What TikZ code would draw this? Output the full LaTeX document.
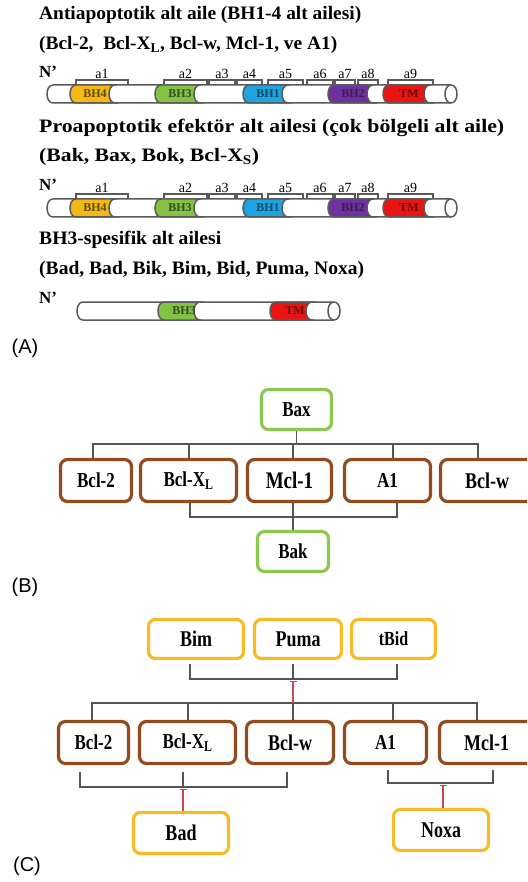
\documentclass[tikz,border=0pt]{standalone}
\usepackage{fontspec}
\setmainfont{Liberation Serif}
\newfontfamily\lsans{Liberation Sans}
\usepackage{graphicx}
\usetikzlibrary{arrows.meta}
\definecolor{brownc}{RGB}{145,75,30}
\definecolor{greenc}{RGB}{140,200,80}
\definecolor{yellowc}{RGB}{245,188,40}
\definecolor{cbhf}{RGB}{245,185,20}
\definecolor{cbht}{RGB}{130,195,70}
\definecolor{cbho}{RGB}{30,165,225}
\definecolor{cbhw}{RGB}{110,50,160}
\definecolor{ctm}{RGB}{235,20,20}
\definecolor{outc}{RGB}{90,90,90}
\definecolor{connc}{RGB}{85,85,85}
\definecolor{inhc}{RGB}{205,70,80}
\newcommand{\vs}[1]{\scalebox{1}[1.25]{#1}}
\newcommand{\tw}[2]{\resizebox{#1pt}{\height}{#2}}
% cylinder body: left x, right x, centre y
\newcommand{\cbody}[3]{%
 \draw[outl, fill=white] ({#1},{#3-9}) -- ({#2},{#3-9}) .. controls ({#2+8},{#3-9}) and ({#2+8},{#3+9}) .. ({#2},{#3+9}) -- ({#1},{#3+9}) .. controls ({#1-8},{#3+9}) and ({#1-8},{#3-9}) .. ({#1},{#3-9}) -- cycle;
 \draw[outl] ({#2},{#3-9}) .. controls ({#2-8},{#3-9}) and ({#2-8},{#3+9}) .. ({#2},{#3+9});}
% coloured segment: xa, xb, yc, colour
\newcommand{\cseg}[4]{%
 \draw[outl, fill=#4] ({#1},{#3-9}) -- ({#2},{#3-9}) .. controls ({#2-8},{#3-9}) and ({#2-8},{#3+9}) .. ({#2},{#3+9}) -- ({#1},{#3+9}) .. controls ({#1-8},{#3+9}) and ({#1-8},{#3-9}) .. ({#1},{#3-9}) -- cycle;}
% bracket: x1, x2, ytop, label, name
\newcommand{\brk}[5]{%
 \draw[brkst] ({#1},{#3+6}) -- ({#1},{#3}) -- ({#2},{#3}) -- ({#2},{#3+6});
 \node[alab] (#5) at ({(#1+#2)/2},{#3-6}) {#4};}
\newcommand{\brackets}[2]{% ytop, row id
 \brk{76}{128}{#1}{a1}{a1#2}
 \brk{164}{207}{#1}{a2}{a2#2}
 \brk{209}{235}{#1}{a3}{a3#2}
 \brk{237}{262}{#1}{a4}{a4#2}
 \brk{268}{303}{#1}{a5}{a5#2}
 \brk{307}{333}{#1}{a6}{a6#2}
 \brk{335}{355}{#1}{a7}{a7#2}
 \brk{358}{378}{#1}{a8}{a8#2}
 \brk{388}{433}{#1}{a9}{a9#2}}
\newcommand{\fullcyl}[2]{% yc, row id
 \cbody{53}{451}{#1}
 \cseg{76}{115}{#1}{cbhf}
 \cseg{161}{200}{#1}{cbht}
 \cseg{249}{288}{#1}{cbho}
 \cseg{334}{373}{#1}{cbhw}
 \cseg{389}{430}{#1}{ctm}
 \node[dlab, text=cbhf!40!black] (bh4#2) at (95,#1) {BH4};
 \node[dlab, text=cbht!40!black] (bh3#2) at (180,#1) {BH3};
 \node[dlab, text=cbho!45!black] (bh1#2) at (268,#1) {BH1};
 \node[dlab, text=cbhw!55!black] (bh2#2) at (353,#1) {BH2};
 \node[dlab, text=ctm!45!black] (tm#2) at (409,#1) {TM};}
\begin{document}
\begin{tikzpicture}[x=1pt,y=-1pt,
  outl/.style={draw=outc, line width=1.5pt},
  brkst/.style={draw=outc, line width=1.2pt},
  alab/.style={inner sep=0pt, font=\fontsize{14}{15}\selectfont},
  dlab/.style={inner sep=0pt, font=\bfseries\fontsize{12}{13}\selectfont},
  ttl/.style={anchor=west, inner sep=0pt, font=\bfseries\fontsize{19}{21}\selectfont},
  npr/.style={anchor=west, inner sep=0pt, font=\bfseries\fontsize{17}{19}\selectfont},
  plab/.style={inner sep=0pt, font=\lsans\fontsize{20}{22}\selectfont},
  bx/.style={rounded corners=7pt, line width=3.2pt, fill=white, inner sep=0pt, font=\bfseries\fontsize{17}{19}\selectfont},
  bbox/.style={bx, draw=brownc},
  gbox/.style={bx, draw=greenc},
  ybox/.style={bx, draw=yellowc},
  sz/.style 2 args={minimum width=#1pt, minimum height=#2pt},
  conn/.style={draw=connc, line width=1.3pt},
  inh/.style={draw=inhc, line width=1.3pt, -{Bar[width=7pt,line width=1.3pt]}, shorten >=2pt}]
\clip (0,0) rectangle (527,882);
\fill[white] (0,0) rectangle (527,882);

% ---------- (A) ----------
\node[ttl] (t1) at (39,15) {\tw{322}{Antiapoptotik alt aile (BH1-4 alt ailesi)}};
\node[ttl] (t2) at (39,45) {\tw{298}{(Bcl-2,~ Bcl-X\textsubscript{L}, Bcl-w, Mcl-1, ve A1)}};
\node[npr] (n1) at (39,72) {N’};
\brackets{80}{r1}
\fullcyl{94}{r1}

\node[ttl] (t3) at (39,128) {\tw{465}{Proapoptotik efektör alt ailesi (çok bölgeli alt aile)}};
\node[ttl] (t4) at (39,157) {\tw{220}{(Bak, Bax, Bok, Bcl-X\textsubscript{S})}};
\node[npr] (n2) at (39,185) {N’};
\brackets{194}{r2}
\fullcyl{208}{r2}

\node[ttl] (t5) at (39,240) {\tw{182}{BH3-spesifik alt ailesi}};
\node[ttl] (t6) at (39,270) {\tw{325}{(Bad, Bad, Bik, Bim, Bid, Puma, Noxa)}};
\node[npr] (n3) at (39,298) {N’};
\cbody{83}{334}{311}
\cseg{164}{200}{311}{cbht}
\cseg{276}{312}{311}{ctm}
\node[dlab, text=cbht!40!black] (bh3r3) at (184,311) {BH3};
\node[dlab, text=ctm!45!black] (tmr3) at (295,311) {TM};
\node[plab] (pa) at (25,348) {(A)};

% ---------- (B) ----------
\node[gbox, sz={70}{40}] (bax) at (296.5,409.5) {\vs{Bax}};
\node[bbox, sz={71}{42}] (bcl2B) at (96,480.5) {\vs{Bcl-2}};
\node[bbox, sz={96}{42}] (bclxlB) at (188.5,480.5) {\vs{Bcl-X\textsubscript{L}}};
\node[bbox, sz={84}{42}, font=\bfseries\fontsize{19}{21}\selectfont] (mcl1B) at (289.5,480.5) {\vs{Mcl-1}};
\node[bbox, sz={86}{42}] (a1B) at (387.5,480.5) {\vs{A1}};
\node[bbox, sz={93}{42}, font=\bfseries\fontsize{18}{20}\selectfont] (bclwB) at (487,480.5) {\vs{Bcl-w}};
\node[gbox, sz={71}{40}] (bak) at (293,551.5) {\vs{Bak}};
\node[plab] (pb) at (25,587) {(B)};

\coordinate (busB) at (293,444);
\coordinate (pb1) at ([xshift=-3pt]bcl2B.north);
\coordinate (pb2) at ([xshift=0.5pt]bclxlB.north);
\coordinate (pb3) at ([xshift=3.5pt]mcl1B.north);
\coordinate (pb4) at ([xshift=5.5pt]a1B.north);
\coordinate (pb5) at ([xshift=-9pt]bclwB.north);
\draw[conn] (bax.south) -- (bax.south |- busB);
\draw[conn] (pb1) |- (pb5 |- busB) -- (pb5);
\draw[conn] (pb2) -- (pb2 |- busB);
\draw[conn] (pb3) -- (pb3 |- busB);
\draw[conn] (pb4) -- (pb4 |- busB);
\coordinate (busB2) at (293,517);
\coordinate (pc1) at ([xshift=1.5pt]bclxlB.south);
\coordinate (pc3) at ([xshift=9.5pt]a1B.south);
\draw[conn] (pc1) |- (pc3 |- busB2) -- (pc3);
\draw[conn] (bak.north) -- (bak.north |- mcl1B.south);

% ---------- (C) ----------
\node[ybox, sz={95}{39}, font=\bfseries\fontsize{18}{20}\selectfont] (bim) at (196,639) {\vs{Bim}};
\node[ybox, sz={87}{39}, font=\bfseries\fontsize{18}{20}\selectfont] (puma) at (298,639) {\vs{Puma}};
\node[ybox, sz={84}{39}, font=\bfseries\fontsize{16}{18}\selectfont] (tbid) at (393.5,639) {\vs{tBid}};

\node[bbox, sz={70}{42}] (bcl2C) at (93.5,742.5) {\vs{Bcl-2}};
\node[bbox, sz={96}{42}] (bclxlC) at (187.5,742.5) {\vs{Bcl-X\textsubscript{L}}};
\node[bbox, sz={87}{42}, font=\bfseries\fontsize{18}{20}\selectfont] (bclwC) at (290,742.5) {\vs{Bcl-w}};
\node[bbox, sz={82}{42}] (a1C) at (385.5,742.5) {\vs{A1}};
\node[bbox, sz={94}{42}, font=\bfseries\fontsize{18}{20}\selectfont] (mcl1C) at (486.5,742.5) {\vs{Mcl-1}};

\node[ybox, sz={95}{41}, font=\bfseries\fontsize{18}{20}\selectfont] (bad) at (181,833) {\vs{Bad}};
\node[ybox, sz={95}{41}, font=\bfseries\fontsize{18}{20}\selectfont] (noxa) at (441,830) {\vs{Noxa}};
\node[plab] (pc) at (27,866) {(C)};

% top bracket
\coordinate (brC) at (293,679);
\coordinate (q1) at ([xshift=-6pt,yshift=-4pt]bim.south);
\coordinate (q2) at ([xshift=-5pt,yshift=-4pt]puma.south);
\coordinate (q3) at ([xshift=3.5pt,yshift=-4pt]tbid.south);
\draw[conn] (q1) |- (q3 |- brC) -- (q3);
\draw[conn] (q2) -- (q2 |- brC);
% bus to row C
\coordinate (busC) at (293,703);
\coordinate (r1) at ([xshift=-1.5pt]bcl2C.north);
\coordinate (r2) at ([xshift=0.5pt]bclxlC.north);
\coordinate (r3) at ([xshift=3pt]bclwC.north);
\coordinate (r4) at ([xshift=7.5pt]a1C.north);
\coordinate (r5) at ([xshift=-9.5pt]mcl1C.north);
\draw[conn] (r1) |- (r5 |- busC) -- (r5);
\draw[conn] (r2) -- (r2 |- busC);
\draw[conn] (r3) -- (r3 |- busC);
\draw[conn] (r4) -- (r4 |- busC);
\draw[inh] (busC) -- (brC);
% lower-left bracket
\coordinate (brL) at (183,787);
\coordinate (s1) at ([xshift=-13.5pt,yshift=-7pt]bcl2C.south);
\coordinate (s2) at ([xshift=-4.5pt,yshift=-7pt]bclxlC.south);
\coordinate (s3) at ([xshift=-3pt,yshift=-7pt]bclwC.south);
\draw[conn] (s1) |- (s3 |- brL) -- (s3);
\draw[conn] (s2) -- (s2 |- brL);
\draw[inh] (bad.north -| brL) -- (brL);
% lower-right bracket
\coordinate (brR) at (443,783);
\coordinate (u1) at ([xshift=2.5pt,yshift=-5pt]a1C.south);
\coordinate (u2) at ([xshift=6.5pt,yshift=-5pt]mcl1C.south);
\draw[conn] (u1) |- (u2 |- brR) -- (u2);
\draw[inh] (noxa.north -| brR) -- (brR);
\end{tikzpicture}
\end{document}
